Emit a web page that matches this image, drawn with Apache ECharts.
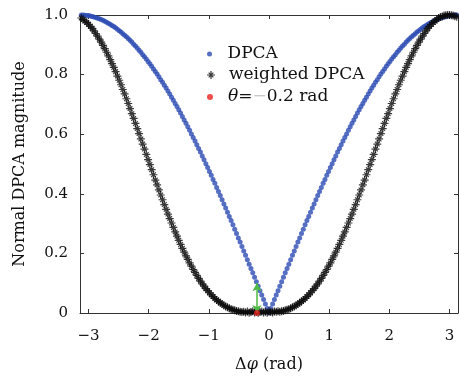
<!DOCTYPE html>
<html><head><meta charset="utf-8">
<script src="https://cdn.jsdelivr.net/npm/echarts@6/dist/echarts.min.js"></script>
<style>html,body{margin:0;padding:0;background:#fff}#c{width:459px;height:378px}</style>
</head><body><div id="c"></div>
<script>
// Δφ sample positions (rad)
const xValues = [
-3.12,-3.09,-3.06,-3.03,-3.00,-2.97,-2.94,-2.91,-2.88,-2.85,
-2.82,-2.79,-2.76,-2.73,-2.70,-2.67,-2.64,-2.61,-2.58,-2.55,
-2.52,-2.49,-2.46,-2.43,-2.40,-2.37,-2.34,-2.31,-2.28,-2.25,
-2.22,-2.19,-2.16,-2.13,-2.10,-2.07,-2.04,-2.01,-1.98,-1.95,
-1.92,-1.89,-1.86,-1.83,-1.80,-1.77,-1.74,-1.71,-1.68,-1.65,
-1.62,-1.59,-1.56,-1.53,-1.50,-1.47,-1.44,-1.41,-1.38,-1.35,
-1.32,-1.29,-1.26,-1.23,-1.20,-1.17,-1.14,-1.11,-1.08,-1.05,
-1.02,-0.99,-0.96,-0.93,-0.90,-0.87,-0.84,-0.81,-0.78,-0.75,
-0.72,-0.69,-0.66,-0.63,-0.60,-0.57,-0.54,-0.51,-0.48,-0.45,
-0.42,-0.39,-0.36,-0.33,-0.30,-0.27,-0.24,-0.21,-0.18,-0.15,
-0.12,-0.09,-0.06,-0.03,0.00,0.03,0.06,0.09,0.12,0.15,
0.18,0.21,0.24,0.27,0.30,0.33,0.36,0.39,0.42,0.45,
0.48,0.51,0.54,0.57,0.60,0.63,0.66,0.69,0.72,0.75,
0.78,0.81,0.84,0.87,0.90,0.93,0.96,0.99,1.02,1.05,
1.08,1.11,1.14,1.17,1.20,1.23,1.26,1.29,1.32,1.35,
1.38,1.41,1.44,1.47,1.50,1.53,1.56,1.59,1.62,1.65,
1.68,1.71,1.74,1.77,1.80,1.83,1.86,1.89,1.92,1.95,
1.98,2.01,2.04,2.07,2.10,2.13,2.16,2.19,2.22,2.25,
2.28,2.31,2.34,2.37,2.40,2.43,2.46,2.49,2.52,2.55,
2.58,2.61,2.64,2.67,2.70,2.73,2.76,2.79,2.82,2.85,
2.88,2.91,2.94,2.97,3.00,3.03,3.06,3.09,3.12
];
// DPCA (blue dots)
const dpcaValues = [
1.000,1.000,0.999,0.998,0.998,0.997,0.995,0.993,0.992,0.989,
0.987,0.985,0.982,0.979,0.976,0.972,0.969,0.965,0.961,0.957,
0.952,0.947,0.943,0.937,0.932,0.927,0.921,0.915,0.909,0.902,
0.896,0.889,0.882,0.875,0.867,0.860,0.852,0.844,0.836,0.828,
0.819,0.810,0.802,0.793,0.783,0.774,0.764,0.755,0.745,0.735,
0.724,0.714,0.703,0.693,0.682,0.671,0.659,0.648,0.637,0.625,
0.613,0.601,0.589,0.577,0.565,0.552,0.540,0.527,0.514,0.501,
0.488,0.475,0.462,0.448,0.435,0.421,0.408,0.394,0.380,0.366,
0.352,0.338,0.324,0.310,0.296,0.281,0.267,0.252,0.238,0.223,
0.208,0.194,0.179,0.164,0.149,0.135,0.120,0.105,0.090,0.075,
0.060,0.045,0.030,0.015,0.000,
0.015,0.030,0.045,0.060,0.075,0.090,0.105,0.120,0.135,0.149,
0.164,0.179,0.194,0.208,0.223,0.238,0.252,0.267,0.281,0.296,
0.310,0.324,0.338,0.352,0.366,0.380,0.394,0.408,0.421,0.435,
0.448,0.462,0.475,0.488,0.501,0.514,0.527,0.540,0.552,0.565,
0.577,0.589,0.601,0.613,0.625,0.637,0.648,0.659,0.671,0.682,
0.693,0.703,0.714,0.724,0.735,0.745,0.755,0.764,0.774,0.783,
0.793,0.802,0.810,0.819,0.828,0.836,0.844,0.852,0.860,0.867,
0.875,0.882,0.889,0.896,0.902,0.909,0.915,0.921,0.927,0.932,
0.937,0.943,0.947,0.952,0.957,0.961,0.965,0.969,0.972,0.976,
0.979,0.982,0.985,0.987,0.989,0.992,0.993,0.995,0.997,0.998,
0.998,0.999,1.000,1.000
];
// weighted DPCA (black asterisks)
const weightedValues = [
0.990,0.985,0.980,0.975,0.969,0.962,0.955,0.947,0.938,0.929,
0.919,0.909,0.898,0.887,0.875,0.863,0.850,0.837,0.824,0.810,
0.795,0.781,0.766,0.750,0.735,0.719,0.703,0.686,0.669,0.653,
0.636,0.619,0.602,0.584,0.567,0.550,0.532,0.515,0.498,0.481,
0.464,0.446,0.430,0.413,0.396,0.380,0.364,0.348,0.332,0.317,
0.302,0.287,0.272,0.258,0.244,0.230,0.217,0.204,0.192,0.180,
0.168,0.157,0.146,0.136,0.126,0.116,0.107,0.098,0.090,0.082,
0.075,0.068,0.061,0.055,0.049,0.044,0.039,0.034,0.030,0.026,
0.022,0.019,0.016,0.013,0.011,0.009,0.007,0.006,0.004,0.003,
0.004,0.002,0.005,0.001,0.003,0.006,0.002,0.004,0.001,0.003,
0.005,0.002,0.004,0.001,0.006,0.003,0.002,0.005,0.004,0.006,
0.004,0.006,0.007,0.009,0.011,0.013,0.016,0.019,0.022,0.026,
0.030,0.034,0.039,0.044,0.049,0.055,0.061,0.068,0.075,0.082,
0.090,0.098,0.107,0.116,0.126,0.136,0.146,0.157,0.168,0.180,
0.192,0.204,0.217,0.230,0.244,0.258,0.272,0.287,0.302,0.317,
0.332,0.348,0.364,0.380,0.396,0.413,0.430,0.446,0.464,0.481,
0.498,0.515,0.532,0.550,0.567,0.584,0.602,0.619,0.636,0.653,
0.669,0.686,0.703,0.719,0.735,0.750,0.766,0.781,0.795,0.810,
0.824,0.837,0.850,0.863,0.875,0.887,0.898,0.909,0.919,0.929,
0.938,0.947,0.955,0.962,0.969,0.975,0.980,0.985,0.990,0.993,
0.995,0.998,0.999,1.000,1.000,0.999,0.998,0.996,0.994
];
// theta marker and green double arrow
const thetaX = [-0.2];
const thetaY = [0];
const arrowX = -0.2;
const arrowY = [0, 0.1];
// axis ticks
const xTicks = [-3, -2, -1, 0, 1, 2, 3];
const yTickStep = 0.2;
const seriesNames = ['DPCA', 'weighted DPCA', 'θ=−0.2 rad'];

const FONT = 'DejaVu Serif';
const AX = '#333';
const XMIN = -Math.PI, XMAX = Math.PI;
const asterisk = 'path://M-0.15,-1 L0.15,-1 L0.15,1 L-0.15,1 Z M-1,-0.15 L1,-0.15 L1,0.15 L-1,0.15 Z M-0.48,-0.69 L0.69,0.48 L0.48,0.69 L-0.69,-0.48 Z M-0.69,0.48 L0.48,-0.69 L0.69,-0.48 L-0.48,0.69 Z';

const pair = (xs, ys) => xs.map((x, i) => [x, ys[i]]);

const chart = echarts.init(document.getElementById('c'), null, {renderer: 'canvas'});
const legendText = {fontFamily: FONT, fontSize: 17, color: '#111', lineHeight: 18,
  rich: {i: {fontFamily: FONT, fontSize: 17, fontStyle: 'italic', color: '#111'},
         m: {fontFamily: FONT, fontSize: 17, color: '#c8c8c8'}}};
const legendBase = {orient: 'vertical', left: 207, itemWidth: 26, padding: 0, itemGap: 0,
  textStyle: legendText, selectedMode: false};

chart.setOption({
  animation: false,
  backgroundColor: '#fff',
  grid: {left: 80, right: 1, top: 15, bottom: 64},
  xAxis: [{
    type: 'value', min: XMIN, max: XMAX, position: 'bottom',
    axisLine: {show: true, onZero: false, lineStyle: {color: AX, width: 1}},
    axisTick: {show: true, inside: true, length: 4, customValues: xTicks, lineStyle: {color: AX}},
    axisLabel: {show: true, customValues: xTicks, margin: 16, fontFamily: FONT, fontSize: 15, color: '#111',
      formatter: v => (v < 0 ? '\u2212' + (-v) : String(v))},
    splitLine: {show: false},
    name: '{n|Δ}{i|φ}{n| (rad)}', nameLocation: 'middle', nameGap: 44,
    nameTextStyle: {rich: {n: {fontFamily: FONT, fontSize: 16, color: '#111'},
                           i: {fontFamily: FONT, fontSize: 16, fontStyle: 'italic', color: '#111'}}}
  }, {
    type: 'value', min: XMIN, max: XMAX, position: 'top',
    axisLine: {show: true, onZero: false, lineStyle: {color: AX, width: 1}},
    axisTick: {show: true, inside: true, length: 4, customValues: xTicks, lineStyle: {color: AX}},
    axisLabel: {show: false}, splitLine: {show: false}
  }],
  yAxis: [{
    type: 'value', min: 0, max: 1, interval: yTickStep, position: 'left',
    axisLine: {show: true, onZero: false, lineStyle: {color: AX, width: 1}},
    axisTick: {show: true, inside: true, length: 4, lineStyle: {color: AX}},
    axisLabel: {margin: 12, fontFamily: FONT, fontSize: 15, color: '#111',
      formatter: v => (v === 0 ? '0' : v.toFixed(1))},
    splitLine: {show: false},
    name: 'Normal DPCA magnitude', nameLocation: 'middle', nameGap: 52,
    nameTextStyle: {fontFamily: FONT, fontSize: 16, color: '#111'}
  }, {
    type: 'value', min: 0, max: 1, interval: yTickStep, position: 'right',
    axisLine: {show: true, onZero: false, lineStyle: {color: AX, width: 1}},
    axisTick: {show: true, inside: true, length: 4, lineStyle: {color: AX}},
    axisLabel: {show: false}, splitLine: {show: false}
  }],
  legend: [
    Object.assign({}, legendBase, {top: 45, itemHeight: 5, data: [seriesNames[0]]}),
    Object.assign({}, legendBase, {top: 66, itemHeight: 8, data: [seriesNames[1]]}),
    Object.assign({}, legendBase, {top: 88, itemHeight: 6, data: [seriesNames[2]],
      formatter: () => '{i|θ}={m|−}0.2 rad'})
  ],
  series: [{
    name: seriesNames[0], type: 'scatter', symbol: 'circle', symbolSize: 5,
    itemStyle: {color: '#2c4bb3'}, data: pair(xValues, dpcaValues), z: 2
  }, {
    name: seriesNames[1], type: 'scatter', symbol: asterisk, symbolSize: 8,
    itemStyle: {color: '#0a0a0a'}, data: pair(xValues, weightedValues), z: 3
  }, {
    name: seriesNames[2], type: 'scatter', symbol: 'circle', symbolSize: 6,
    itemStyle: {color: '#e8201e'}, data: pair(thetaX, thetaY), z: 5,
    markLine: {silent: true, symbol: ['arrow', 'arrow'], symbolSize: [7, 8],
      lineStyle: {color: '#4cb944', width: 1.5, type: 'solid'}, label: {show: false},
      data: [[{coord: [arrowX, arrowY[0]]}, {coord: [arrowX, arrowY[1]]}]]}
  }]
});
</script>
</body></html>
